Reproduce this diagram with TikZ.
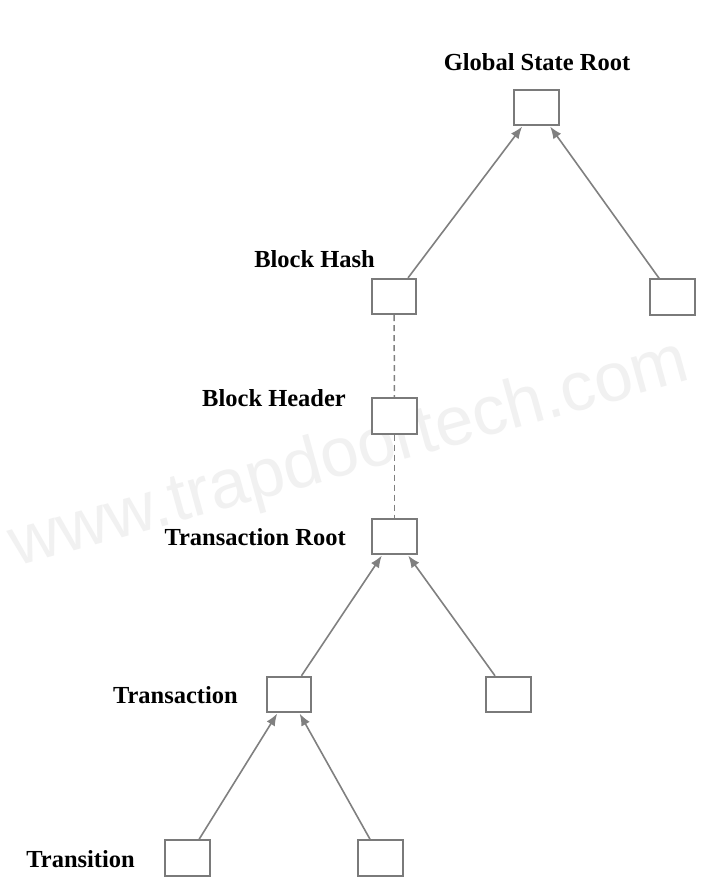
\documentclass[tikz,border=0pt]{standalone}
\usepackage{fontspec}
\setmainfont{Liberation Serif}
\newfontfamily\wmfont{Liberation Sans}
\usetikzlibrary{arrows.meta}
\definecolor{linegray}{HTML}{808080}
\definecolor{boxgray}{HTML}{7A7A7A}
\definecolor{wmgray}{HTML}{F1F1F1}
\tikzset{
  hbox/.style={draw=boxgray, line width=1.9pt, fill=white, rectangle, inner sep=0pt,
    minimum width=44.5pt, minimum height=35.5pt},
  lbl/.style={font=\bfseries\fontsize{24.5}{28}\selectfont, inner sep=0pt, text=black},
  edgearrow/.style={draw=linegray, line width=1.6pt,
    -{Latex[length=12pt,width=9.5pt]}, shorten >=0.5pt},
  dashlink/.style={draw=linegray, line width=1.5pt, dash pattern=on 6pt off 4pt}
}
\begin{document}
\begin{tikzpicture}[x=1pt,y=-1pt]
\useasboundingbox (0,0) rectangle (708,886);
\fill[white] (0,0) rectangle (708,886);
% watermark
\node[font=\wmfont\fontsize{69}{72}\selectfont, text=wmgray, anchor=base west,
  rotate=15.5, inner sep=0pt] (wm) at (16,567) {www.trapdoortech.com};
% boxes
\node[hbox] (gsr) at (536.5,107.5) {};
\node[hbox] (bh) at (394,296.5) {};
\node[hbox] (r2) at (672.5,297) {};
\node[hbox] (bhdr) at (394.5,416) {};
\node[hbox] (tr) at (394.5,536.5) {};
\node[hbox] (tx) at (289,694.5) {};
\node[hbox] (r4) at (508.5,694.5) {};
\node[hbox] (t1) at (187.5,858) {};
\node[hbox] (t2) at (380.5,858) {};
% labels
\node[lbl, anchor=center] (lgsr) at (537,62) {Global State Root};
\node[lbl, anchor=east] (lbh) at (375,259) {Block Hash};
\node[lbl, anchor=east] (lbhdr) at (346,398) {Block Header};
\node[lbl, anchor=east] (ltr) at (346,537) {Transaction Root};
\node[lbl, anchor=east] (ltx) at (238,695) {Transaction};
\node[lbl, anchor=east] (lt1) at (135,859) {Transition};
% connectors
\draw[edgearrow] (bh) -- (gsr);
\draw[edgearrow] (r2) -- (gsr);
\draw[dashlink] (bh) -- (bhdr);
\draw[dashlink] (bhdr) -- (tr);
\draw[edgearrow] (tx) -- (tr);
\draw[edgearrow] (r4) -- (tr);
\draw[edgearrow] (t1) -- (tx);
\draw[edgearrow] (t2) -- (tx);
\end{tikzpicture}
\end{document}
